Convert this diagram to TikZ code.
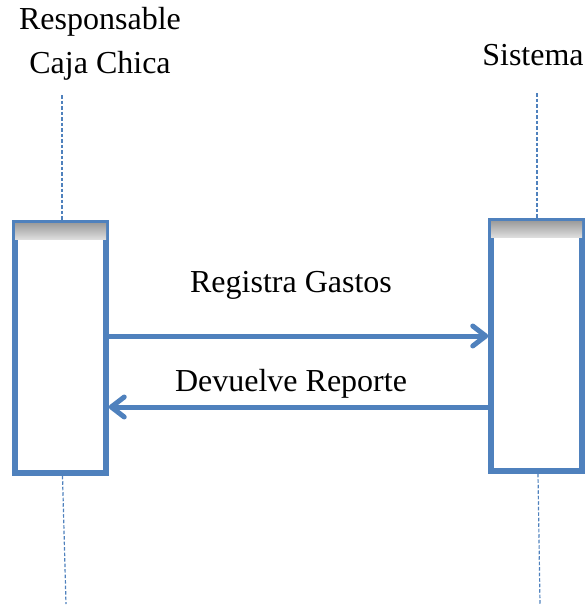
\documentclass[tikz,border=0pt]{standalone}
\usepackage{fontspec}
\setmainfont{Liberation Serif}
\usetikzlibrary{arrows.meta}
\definecolor{seqblue}{HTML}{4F81BD}
% linear fade from grey (top) to white (bottom) over the whole shaded area
\pgfdeclareverticalshading{topfade}{100bp}{color(0bp)=(white); color(100bp)=(black!52)}
\begin{document}
\begin{tikzpicture}[x=1pt,y=-1pt,
  actbox/.style={draw=seqblue, fill=white, line width=5.5pt, minimum width=91pt, minimum height=250pt, inner sep=0pt},
  lifeline/.style={draw=seqblue, line width=1.2pt, dash pattern=on 3.5pt off 2pt},
  msg/.style={draw=seqblue, line width=5pt, -{Straight Barb[length=13pt, width=20pt, line cap=round, line join=round]}},
  lbl/.style={font=\fontsize{32}{44}\selectfont, inner sep=0pt, align=center}]
\useasboundingbox (0,0) rectangle (586,606);

% activation boxes
\node[actbox] (resp) at (60.5,348) {};
\node[actbox] (sys) at (536.5,346) {};

% soft shadow under the top edge of each box
\foreach \b in {resp,sys}{
  \shade[shading=topfade]
    ([xshift=2.75pt,yshift=-2.75pt]\b.north west) rectangle ([xshift=-2.75pt,yshift=-19pt]\b.north east);
}

% actor names
\node[lbl] (respname) at (100,44) {Responsable\\Caja Chica};
\node[lbl] (sysname) at (533,55) {Sistema};

% lifelines
\coordinate (respTop) at (62,95);
\coordinate (respEnd) at (66,604);
\coordinate (sysTop) at (537,93);
\coordinate (sysEnd) at (540,604);
\draw[lifeline] (respTop) -- (resp.north -| respTop);
\draw[lifeline] ([xshift=2pt]resp.south) -- (respEnd);
\draw[lifeline] (sysTop) -- (sys.north -| sysTop);
\draw[lifeline] ([xshift=1.5pt]sys.south) -- (sysEnd);

% messages
\coordinate (m1) at (0,336);
\coordinate (m2) at (0,407);
\draw[msg] (resp.east |- m1) -- (sys.west |- m1);
\draw[msg] (sys.west |- m2) -- (resp.east |- m2);
\node[lbl] (reg) at (291,285) {Registra Gastos};
\node[lbl] (dev) at (291,384) {Devuelve Reporte};
\end{tikzpicture}
\end{document}
